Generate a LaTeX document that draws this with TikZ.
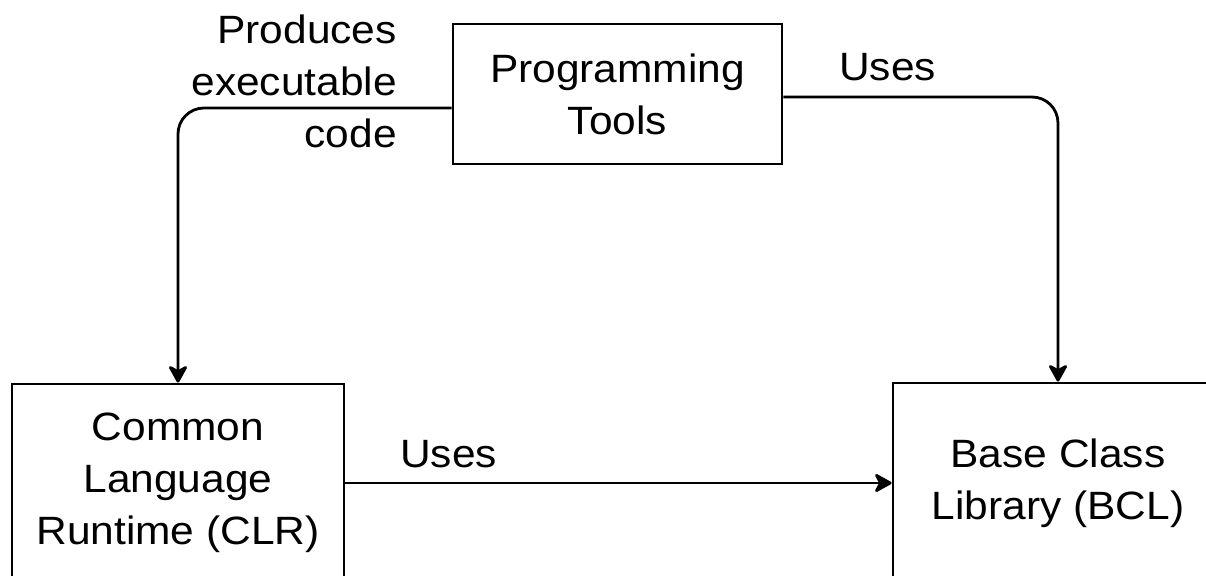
\documentclass[tikz,border=0pt]{standalone}
\usepackage{fontspec}
\setmainfont{Liberation Sans}[FakeStretch=1.075]
\usetikzlibrary{arrows.meta}
\begin{document}
\begin{tikzpicture}[x=1pt,y=-1pt,
  every node/.style={font=\fontsize{39.5}{52}\selectfont, inner sep=0pt},
  boxnode/.style={draw, line width=2.8pt, align=center, minimum width=#1},
  conn/.style={line width=2.8pt, rounded corners=26pt,
    -{Stealth[length=20pt,width=22pt,inset=6pt,round]}},
  lbl/.style={align=right}]
\useasboundingbox (0,0) rectangle (1206,575);
\node[boxnode=329pt, minimum height=140pt] (pt) at (617.5,94) {Programming\\Tools};
\node[boxnode=332pt, minimum height=198pt] (clr) at (178,483) {Common\\Language\\Runtime (CLR)};
\node[boxnode=330pt, minimum height=200pt] (bcl) at (1058,483) {Base Class\\Library (BCL)};
\draw[conn] ([yshift=-14pt]pt.west) -| (clr.north);
\draw[conn] ([yshift=-3pt]pt.east) -| (bcl.north);
\draw[conn] (clr.east) -- (bcl.west);
\node[lbl, anchor=east] (l1) at (397,81) {Produces\\executable\\code};
\node[anchor=base west] (l2) at (839,81) {Uses};
\node[anchor=base west] (l3) at (400,467) {Uses};
\end{tikzpicture}
\end{document}
